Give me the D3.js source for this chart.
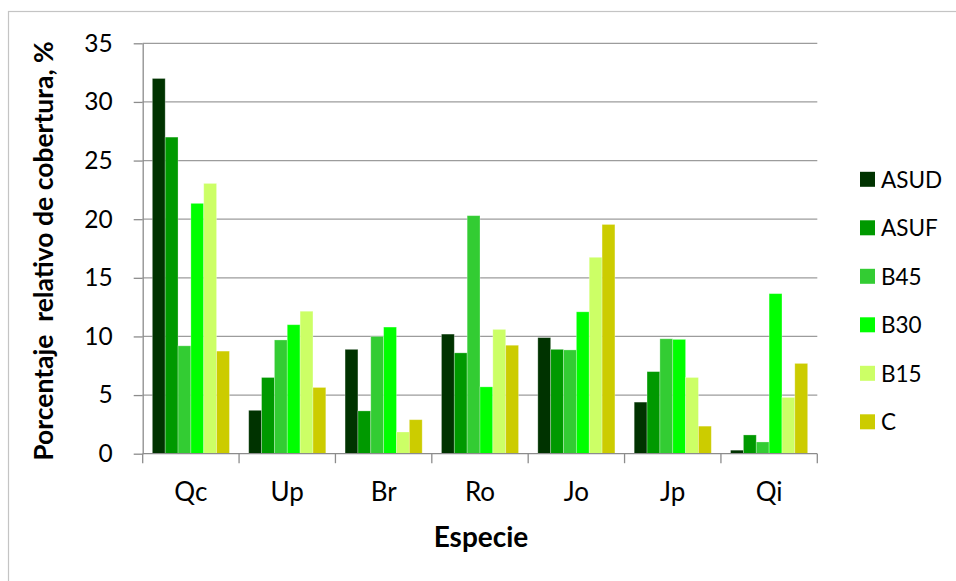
<!DOCTYPE html>
<html>
<head>
<meta charset="utf-8">
<script src="https://cdn.jsdelivr.net/npm/d3@7"></script>
<style>
  html, body { margin: 0; padding: 0; background: #fff; }
  svg { display: block; font-family: Lato, "Open Sans", sans-serif; }
</style>
</head>
<body>
<svg id="chart" width="956" height="581"></svg>
<script>
// Species (x categories) and treatments (series)
const species = ["Qc", "Up", "Br", "Ro", "Jo", "Jp", "Qi"];
const treatments = ["ASUD", "ASUF", "B45", "B30", "B15", "C"];
const colors = ["#003300", "#009900", "#33cc33", "#00ff00", "#ccff66", "#cccc00"];

// Relative cover (%) per treatment, one value per species
const ASUD = [32.0, 3.7, 8.9, 10.2, 9.9, 4.4, 0.3];
const ASUF = [27.0, 6.5, 3.65, 8.6, 8.9, 7.0, 1.6];
const B45  = [9.2, 9.7, 10.0, 20.3, 8.85, 9.8, 1.0];
const B30  = [21.35, 11.0, 10.8, 5.7, 12.1, 9.75, 13.65];
const B15  = [23.05, 12.15, 1.85, 10.6, 16.75, 6.5, 4.8];
const C    = [8.75, 5.65, 2.9, 9.25, 19.55, 2.35, 7.7];
const seriesValues = [ASUD, ASUF, B45, B30, B15, C];

const yTicks = [0, 5, 10, 15, 20, 25, 30, 35];

const svg = d3.select("#chart");

// outer chart frame
svg.append("rect")
  .attr("x", 8.5).attr("y", 11.5)
  .attr("width", 1000).attr("height", 1000)
  .attr("fill", "none").attr("stroke", "#c4c4c4").attr("stroke-width", 1.2);

const plotLeft = 142.7, plotRight = 817.3, plotTop = 43.3, plotBottom = 453.7;

const x = d3.scaleBand().domain(species).range([plotLeft, plotRight])
  .paddingInner(0.2).paddingOuter(0.1);
const xEdges = d3.scaleBand().domain(species).range([plotLeft, plotRight]).padding(0);
const xs = d3.scaleBand().domain(treatments).range([0, x.bandwidth()]).padding(0);
const y = d3.scaleLinear().domain([0, 35]).range([plotBottom, plotTop]);

// horizontal gridlines
svg.append("g").selectAll("line")
  .data(yTicks.filter(d => d > 0))
  .join("line")
  .attr("x1", plotLeft).attr("x2", plotRight)
  .attr("y1", d => y(d)).attr("y2", d => y(d))
  .attr("stroke", "#9c9c9c").attr("stroke-width", 1.3);

// y axis
const yAxis = svg.append("g").attr("transform", `translate(${plotLeft},0)`)
  .call(d3.axisLeft(y).tickValues(yTicks).tickSize(9).tickPadding(21).tickSizeOuter(0));
yAxis.select(".domain").attr("stroke", "#8c8c8c").attr("stroke-width", 1.3);
yAxis.selectAll(".tick line").attr("stroke", "#8c8c8c").attr("stroke-width", 1.3);
yAxis.selectAll(".tick text")
  .attr("font-size", 24.5).attr("fill", "#000").attr("font-family", "Lato, sans-serif");

// bars
const groups = svg.append("g").selectAll("g")
  .data(treatments)
  .join("g")
  .attr("fill", (d, i) => colors[i]);

groups.selectAll("rect")
  .data((t, i) => species.map((s, j) => ({ s, t, v: seriesValues[i][j] })))
  .join("rect")
  .attr("x", d => x(d.s) + xs(d.t))
  .attr("width", xs.bandwidth())
  .attr("y", d => y(d.v))
  .attr("height", d => y(0) - y(d.v))
  .attr("stroke", "rgba(255,255,255,0.35)")
  .attr("stroke-width", 0.8);

// x axis with ticks between categories
const xAxisG = svg.append("g");
xAxisG.append("line")
  .attr("x1", plotLeft).attr("x2", plotRight)
  .attr("y1", plotBottom).attr("y2", plotBottom)
  .attr("stroke", "#8c8c8c").attr("stroke-width", 1.3);
const edges = species.map(s => xEdges(s)).concat([plotRight]);
xAxisG.selectAll("line.tk")
  .data(edges)
  .join("line").attr("class", "tk")
  .attr("x1", d => d).attr("x2", d => d)
  .attr("y1", plotBottom).attr("y2", plotBottom + 9.5)
  .attr("stroke", "#8c8c8c").attr("stroke-width", 1.3);
xAxisG.selectAll("text")
  .data(species)
  .join("text")
  .attr("x", d => x(d) + x.bandwidth() / 2)
  .attr("y", 500.5)
  .attr("text-anchor", "middle")
  .attr("font-size", 26)
  .attr("fill", "#000")
  .text(d => d);

// axis titles
svg.append("text")
  .attr("x", 481).attr("y", 547)
  .attr("text-anchor", "middle")
  .attr("font-weight", "bold").attr("font-size", 28)
  .text("Especie");

svg.append("text")
  .attr("transform", "translate(53,251) rotate(-90)")
  .attr("text-anchor", "middle")
  .attr("font-weight", "bold").attr("font-size", 26.5)
  .style("white-space", "pre")
  .text("Porcentaje  relativo de cobertura, %");

// legend
const legend = svg.append("g").selectAll("g")
  .data(treatments)
  .join("g")
  .attr("transform", (d, i) => `translate(860,${179.3 + i * 48.5})`);
legend.append("rect")
  .attr("x", 0).attr("y", -7.5)
  .attr("width", 15).attr("height", 15)
  .attr("fill", (d, i) => colors[i]);
legend.append("text")
  .attr("x", 21).attr("y", 8.5)
  .attr("font-size", 22.5)
  .attr("fill", "#000")
  .text(d => d);
</script>
</body>
</html>
